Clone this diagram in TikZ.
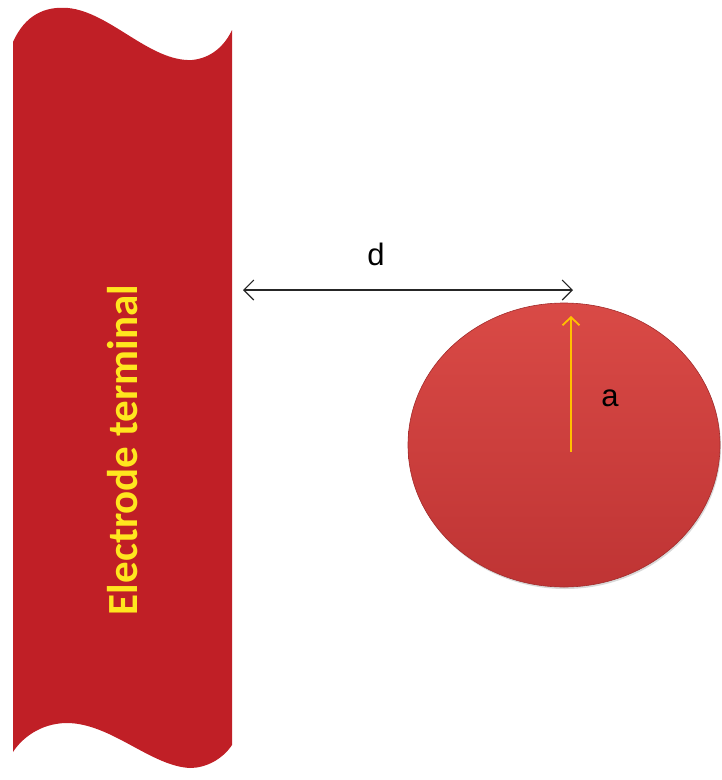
\documentclass[tikz,border=0pt]{standalone}
\usepackage{fontspec}
\setmainfont{Liberation Sans}
\newfontfamily\carl{Carlito}
\usetikzlibrary{arrows.meta,shadows,shapes.geometric}
\definecolor{electro}{HTML}{C01F26}
\definecolor{balltop}{HTML}{D94A46}
\definecolor{ballbot}{HTML}{BF3434}
\definecolor{labelyellow}{HTML}{FFE61E}
\definecolor{radiusorange}{HTML}{FFC000}
\tikzset{
  dimarrow/.style={draw=black!85, line width=1.1pt, {Straight Barb[length=10pt,width=20pt]}-{Straight Barb[length=10pt,width=20pt]}},
  radarrow/.style={draw=radiusorange, line width=1.8pt, -{Straight Barb[length=8pt,width=17pt]}},
  lbl/.style={font=\fontsize{31}{31}\selectfont, text=black, inner sep=0pt}
}
\begin{document}
\begin{tikzpicture}[x=1pt,y=-1pt]
\useasboundingbox (0,0) rectangle (722,780);
% electrode
\fill[electro] (13,42) .. controls (25,15) and (45,6) .. (68,8)
  .. controls (110,12) and (150,62) .. (192,60)
  .. controls (212,58) and (225,45) .. (232,30)
  -- (232,745)
  .. controls (222,760) and (205,768) .. (190,768)
  .. controls (150,766) and (110,722) .. (65,723)
  .. controls (40,724) and (22,738) .. (13,752) -- cycle;
\node[rotate=90, text=labelyellow, inner sep=0pt, font=\carl\bfseries\fontsize{43}{43}\selectfont] (elabel) at (123,450) {Electrode terminal};
% ball
\node[ellipse, minimum width=312pt, minimum height=284pt, inner sep=0pt, draw=ballbot!85!black, line width=0.6pt, top color=balltop, bottom color=ballbot, drop shadow={shadow xshift=1pt, shadow yshift=-2pt, opacity=0.3}] (ball) at (564,445) {};
\coordinate (dl) at (243,290);
\coordinate (dr) at (573,290);
\draw[dimarrow] (dl) -- (dr);
\node[lbl] (dlabel) at (376,254) {d};
\coordinate (rtop) at (571,316);
\coordinate (rbase) at (571,452);
\draw[radarrow] (rbase) -- (rtop);
\node[lbl] (alabel) at (610,398) {a};
\end{tikzpicture}
\end{document}
